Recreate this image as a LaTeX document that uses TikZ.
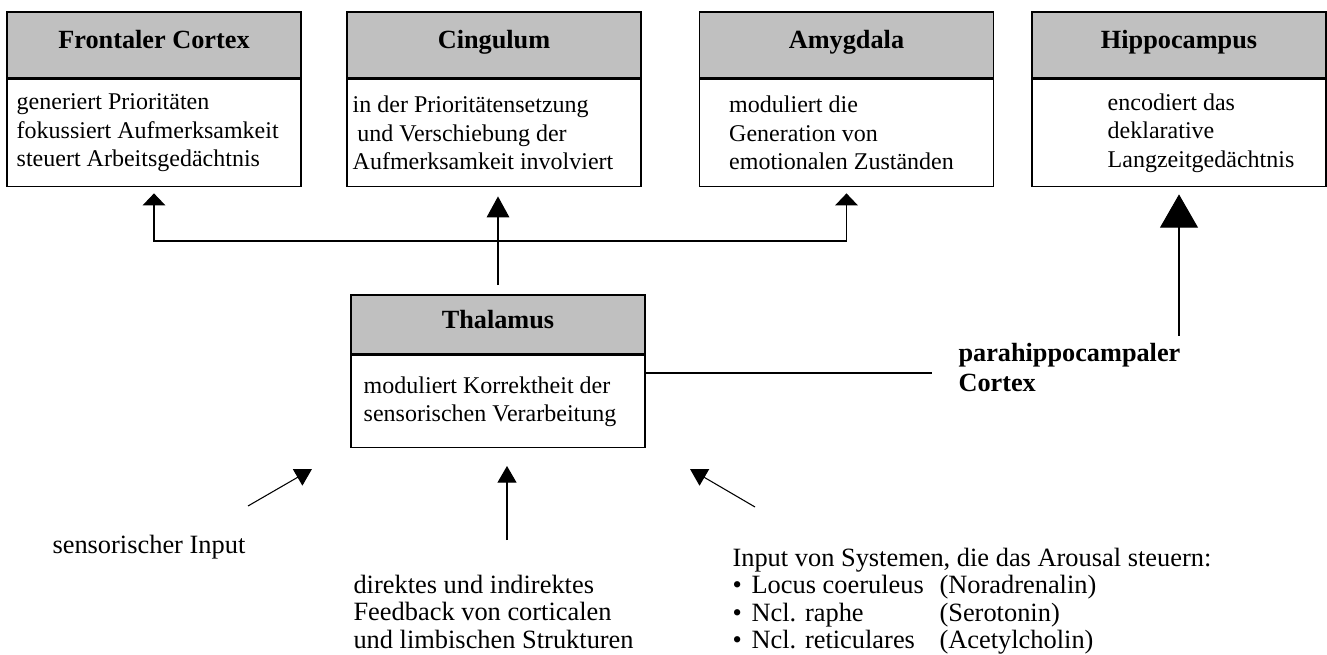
\documentclass[tikz,border=0pt]{standalone}
\usepackage{fontspec}
\setmainfont{Liberation Serif}
\usetikzlibrary{arrows.meta}
\usetikzlibrary{calc}
\definecolor{headgray}{RGB}{192,192,192}

\tikzset{
    tipsmall/.tip={Triangle[length=9pt,width=17pt]},
    tipmid/.tip={Triangle[length=15.75pt,width=17pt]},
    tipbig/.tip={Triangle[length=25pt,width=28.5pt]},
    tiplow/.tip={Triangle[length=12.5pt,width=14.25pt]}
}

\begin{document}
\begin{tikzpicture}[x=0.75pt, y=-0.75pt, line width=0.8pt,
    headbox/.style={draw, line width=1.2pt, fill=headgray, minimum width=220.5pt,
        minimum height=49.5pt, inner sep=0pt, text height=13.8pt, text depth=8.5pt,
        font=\fontsize{19.7}{23}\selectfont\bfseries},
    bodybox/.style={draw, line width=1.2pt, fill=white, minimum width=220.5pt,
        minimum height=80.25pt, inner sep=0pt, anchor=north},
    bodytext/.style={anchor=west, align=left, inner sep=0pt,
        font=\fontsize{18}{21.4}\selectfont},
    plaintext/.style={anchor=base west, align=left, inner sep=0pt,
        font=\fontsize{19.8}{20.6}\selectfont}]
    \useasboundingbox (0,0) rectangle (1327,655);

    % upper row
    \node[headbox] (frontal) at (154,45) {Frontaler Cortex};
    \node[bodybox] (frontal-body) at (frontal.south) {};
    \node[bodytext] (frontal-text) at ([xshift=7.5pt]frontal-body.west)
        {generiert Prioritäten\\fokussiert Aufmerksamkeit\\steuert Arbeitsgedächtnis};

    \node[headbox] (cingulum) at (494,45) {Cingulum};
    \node[bodybox] (cingulum-body) at (cingulum.south) {};
    \node[bodytext] (cingulum-text) at ([xshift=4.5pt]cingulum-body.west)
        {in der Prioritätensetzung\\\hspace*{3.5pt}und Verschiebung der\\Aufmerksamkeit involviert};

    \node[headbox] (amygdala) at (846.5,45) {Amygdala};
    \node[bodybox] (amygdala-body) at (amygdala.south) {};
    \node[bodytext] (amygdala-text) at ([xshift=22.5pt]amygdala-body.west)
        {moduliert die\\Generation von\\emotionalen Zuständen};

    \node[headbox] (hippocampus) at (1179,45) {Hippocampus};
    \node[bodybox] (hippocampus-body) at (hippocampus.south) {};
    \node[bodytext] (hippocampus-text) at ([xshift=57pt]hippocampus-body.west)
        {encodiert das\\deklarative\\Langzeitgedächtnis};

    % thalamus
    \node[headbox, minimum height=44.25pt] (thalamus) at (498,324.5) {Thalamus};
    \node[bodybox, minimum height=69pt] (thalamus-body) at (thalamus.south) {};
    \node[bodytext] (thalamus-text) at ([xshift=9.75pt]thalamus-body.west)
        {moduliert Korrektheit der\\sensorischen Verarbeitung};

    % (base of the last line)
    \node[plaintext, font=\fontsize{19.7}{22.5}\selectfont\bfseries] (para) at (958,392)
        {parahippocampaler\\Cortex};

    % labels below
    \node[plaintext] (sensory) at (52,553) {sensorischer Input};
    \node[plaintext] (feedback) at (353,648)
        {direktes und indirektes\\Feedback von corticalen\\und limbischen Strukturen};
    \node[plaintext] (arousal) at (732,648.5)
        {Input von Systemen, die das Arousal steuern:\\
         \makebox[14.25pt][l]{\textbullet}\makebox[141pt][l]{Locus coeruleus}(Noradrenalin)\\
         \makebox[14.25pt][l]{\textbullet}\makebox[141pt][l]{Ncl. raphe}(Serotonin)\\
         \makebox[14.25pt][l]{\textbullet}\makebox[141pt][l]{Ncl. reticulares}(Acetylcholin)};

    % thalamus projections
    \coordinate (bus) at (0,241);
    \draw[tipsmall-tipsmall, shorten <=4.5pt, shorten >=4.5pt]
        (frontal-body.south) |- (amygdala-body.south |- bus) -- (amygdala-body.south);
    \draw[-tipmid, shorten <=6.75pt, shorten >=6.75pt]
        (thalamus.north) -- (thalamus.north |- cingulum-body.south);
    \coordinate (para-link) at (932,373);
    \draw (thalamus-body.east |- para-link) -- (para-link);
    \draw[-tipbig, shorten >=5.25pt]
        ([yshift=5.7pt]para.north -| hippocampus-body.south) -- (hippocampus-body.south);

    % inputs to thalamus
    \coordinate (sensory-tail) at (248,506);
    \coordinate (sensory-head) at (312,469);
    \coordinate (feedback-tail) at (507,540);
    \coordinate (feedback-head) at (507,466);
    \coordinate (arousal-tail) at (755,507);
    \coordinate (arousal-head) at (690,469);
    \draw[-tiplow] (sensory-tail) -- (sensory-head);
    \draw[-tiplow] (feedback-tail) -- (feedback-head);
    \draw[-tiplow] (arousal-tail) -- (arousal-head);
\end{tikzpicture}
\end{document}
